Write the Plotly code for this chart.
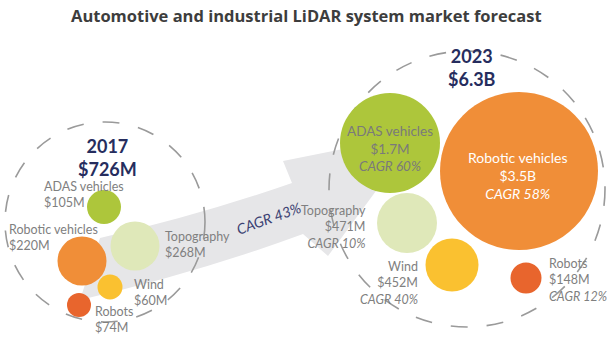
import plotly.graph_objects as go

# ---------------- data ----------------
title = "Automotive and industrial LiDAR system market forecast"
segments = ["ADAS vehicles", "Topography", "Robotic vehicles", "Wind", "Robots"]
value_2017 = [105, 268, 220, 60, 74]            # $M
label_2017 = ["$105M", "$268M", "$220M", "$60M", "$74M"]
value_2023 = [1700, 471, 3500, 452, 148]        # $M
label_2023 = ["$1.7M", "$471M", "$3.5B", "$452M", "$148M"]
cagr_2023 = [60, 10, 58, 40, 12]                # %
years = ["2017", "2023"]
totals = ["$726M", "$6.3B"]
overall_cagr = 43                               # %

# ---------------- layout (positions / sizes / styles) ----------------
W, H = 616, 337
colors = ["#adc63b", "#dfe8b9", "#f08e38", "#fac130", "#e8652d"]
pos_2017 = [(104, 207), (135, 246), (82, 261), (110, 287), (79, 305)]
diam_2017 = [34, 49, 49, 25, 24]
pos_2023 = [(390, 143), (407, 223), (519, 171), (452, 265), (526, 278)]
diam_2023 = [100, 60, 158, 53, 31]

lab_2017 = [(42, 194, "left"), (163, 244, "left"), (7, 237, "left"),
            (132, 292, "left"), (93, 319, "left")]
lab_2023 = [(390, 148, "center", 13.5, "#7a7a7a"), (368, 227, "right", 12.5, "#808080"),
            (518, 175, "center", 14, "#ffffff"), (420, 283, "right", 12.5, "#808080"),
            (547, 280, "left", 12.5, "#808080")]

FONT = "Lato"
GREY_TXT = "#808080"
NAVY = "#262d5e"

fig = go.Figure()

shapes = [
    dict(type="path", xref="x", yref="y", layer="below",
         path="M 80,300 Q 200,272 303,234 L 328,256 L 418,134 L 283,161 L 292,183 "
              "Q 200,215 100,238 Z",
         fillcolor="#e6e6e8", line=dict(width=0)),
]
for (cx, cy, r) in [(105, 222, 100), (467, 189, 138)]:
    shapes.append(dict(type="circle", xref="x", yref="y", layer="below",
                       x0=cx - r, x1=cx + r, y0=cy - r, y1=cy + r,
                       line=dict(color="#9a9a9a", width=1.6, dash="17px,19px"),
                       fillcolor="rgba(0,0,0,0)"))

for pos, diam, vals, yr in [(pos_2017, diam_2017, value_2017, years[0]),
                             (pos_2023, diam_2023, value_2023, years[1])]:
    fig.add_trace(go.Scatter(
        x=[p[0] for p in pos], y=[p[1] for p in pos], mode="markers",
        marker=dict(size=diam, color=colors, opacity=1, line=dict(width=0)),
        customdata=vals, name=yr, hoverinfo="skip", showlegend=False))

ann = []
ann.append(dict(x=306, y=15, text="<b>" + title + "</b>", showarrow=False,
                font=dict(family="Open Sans", size=16.5, color="#3d3d3d")))
for (x, y), yr, tot in zip([(107, 157), (472, 67)], years, totals):
    ann.append(dict(x=x, y=y, text=f"<b>{yr}<br>{tot}</b>", showarrow=False,
                    font=dict(family=FONT, size=18, color=NAVY), align="center"))

for seg, lab, (x, y, xa) in zip(segments, label_2017, lab_2017):
    ann.append(dict(x=x, y=y, text=f"{seg}<br>{lab}", showarrow=False, xanchor=xa,
                    yanchor="middle", align=xa,
                    font=dict(family=FONT, size=12.5, color=GREY_TXT)))
for seg, lab, cg, (x, y, xa, fs, col) in zip(segments, label_2023, cagr_2023, lab_2023):
    ann.append(dict(x=x, y=y, text=f"{seg}<br>{lab}<br><i>CAGR {cg}%</i>", showarrow=False,
                    xanchor=xa, yanchor="middle", align=xa,
                    font=dict(family=FONT, size=fs, color=col)))

ann.append(dict(x=268, y=218, text=f"<i>CAGR {overall_cagr}%</i>", showarrow=False,
                textangle=-20, font=dict(family=FONT, size=14.5, color="#3b4172")))

fig.update_layout(
    width=W, height=H, margin=dict(l=0, r=0, t=0, b=0),
    paper_bgcolor="white", plot_bgcolor="white",
    xaxis=dict(range=[0, W], visible=False, fixedrange=True),
    yaxis=dict(range=[H, 0], visible=False, fixedrange=True),
    shapes=shapes, annotations=ann, showlegend=False,
)
fig.write_html("out.html")
